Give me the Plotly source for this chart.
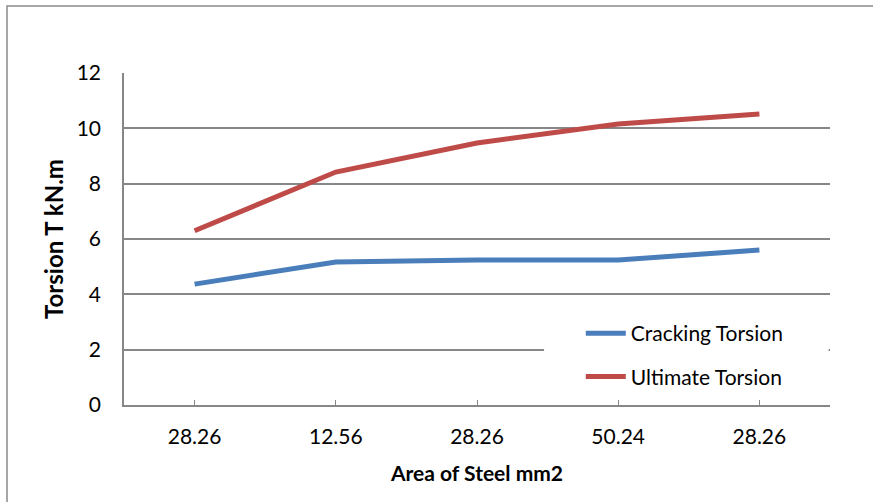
import plotly.graph_objects as go

# Specimen labels (steel area, mm2) and measured torsion values (kN.m)
categories = ["28.26", "12.56", "28.26", "50.24", "28.26"]
cracking_torsion = [4.37, 5.17, 5.24, 5.24, 5.60]
ultimate_torsion = [6.30, 8.42, 9.47, 10.16, 10.52]

positions = list(range(len(categories)))
font_family = "Lato, Carlito, 'Liberation Sans', sans-serif"
grid_color = "#878787"

fig = go.Figure()
fig.add_trace(go.Scatter(
    x=positions, y=cracking_torsion, mode="lines", name="Cracking Torsion",
    line=dict(color="#4A7EBB", width=5), legend="legend",
))
fig.add_trace(go.Scatter(
    x=positions, y=ultimate_torsion, mode="lines", name="Ultimate Torsion",
    line=dict(color="#BE4B48", width=5), legend="legend2",
))

# white box behind the legend that interrupts the gridline
fig.add_shape(type="rect", xref="paper", yref="y", x0=0.595, x1=0.998, y0=0.4, y1=3.45,
              fillcolor="white", line=dict(width=0), layer="above")
# outer chart frame
fig.add_shape(type="rect", xref="paper", yref="paper", x0=-0.1657, x1=1.2, y0=-0.5, y1=1.2018,
              fillcolor="rgba(0,0,0,0)", line=dict(color="#8a8a8a", width=1.5), layer="below")

fig.update_layout(
    width=873, height=502,
    margin=dict(l=124, r=43, t=73, b=97),
    paper_bgcolor="white", plot_bgcolor="white",
    font=dict(family=font_family, size=20, color="black"),
    legend=dict(x=0.647, y=0.215, xanchor="left", yanchor="middle", bgcolor="rgba(0,0,0,0)",
                font=dict(size=21), itemwidth=40),
    legend2=dict(x=0.647, y=0.085, xanchor="left", yanchor="middle", bgcolor="rgba(0,0,0,0)",
                 font=dict(size=21), itemwidth=40),
    showlegend=True,
)
fig.update_xaxes(
    range=[-0.5, 4.5],
    tickvals=[-0.5] + positions + [4.5],
    ticktext=[""] + categories + [""],
    ticks="inside", ticklen=5, tickcolor=grid_color,
    showline=True, linecolor=grid_color, linewidth=1.5,
    showgrid=False, zeroline=False,
    tickfont=dict(size=21), ticklabelstandoff=12,
    title=dict(text="<b>Area of Steel mm2</b>", font=dict(size=21), standoff=19),
)
fig.update_yaxes(
    range=[0, 12], tickvals=[0, 2, 4, 6, 8, 10, 12],
    showline=True, linecolor=grid_color, linewidth=1.5,
    showgrid=True, gridcolor=grid_color, gridwidth=1.5,
    zeroline=False, ticks="",
    tickfont=dict(size=21), ticklabelstandoff=17,
    title=dict(text="<b>Torsion T kN.m</b>", font=dict(size=24), standoff=6),
)

fig.write_html("out.html")
